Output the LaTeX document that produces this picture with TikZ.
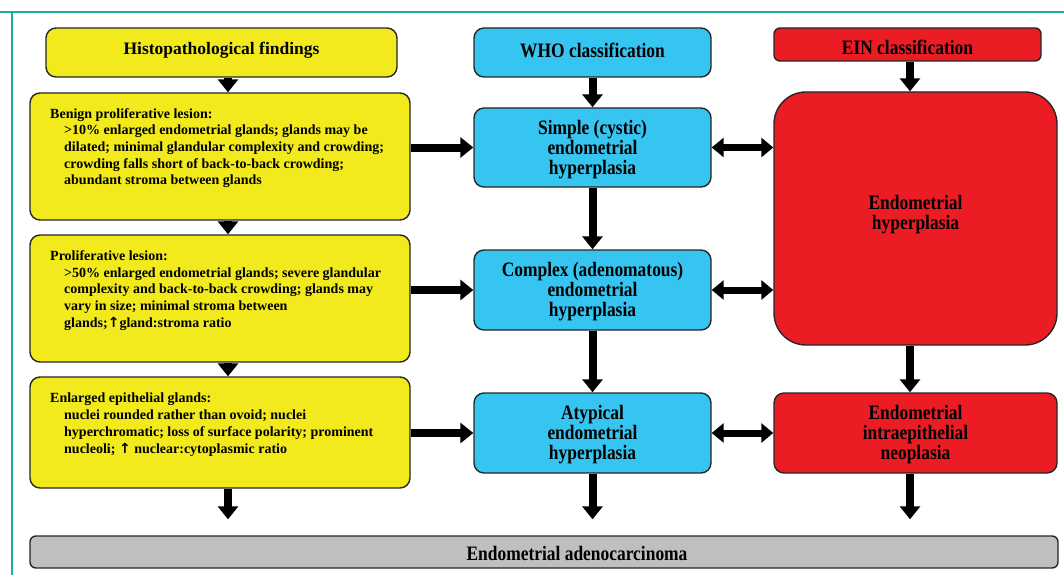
\documentclass[tikz,border=0pt]{standalone}
\usepackage{fontspec}
\setmainfont{Liberation Serif}
\newfontfamily\condfont[FakeStretch=0.85]{Liberation Serif}
\newfontfamily\symfont{DejaVu Sans}
\usetikzlibrary{arrows.meta}
\definecolor{frameteal}{HTML}{1AAE9A}
\definecolor{boxyellow}{HTML}{F2EA1C}
\definecolor{boxblue}{HTML}{36C5F0}
\definecolor{boxred}{HTML}{EC1C24}
\definecolor{boxgray}{HTML}{BFBFBF}
\newcommand\myind{\hspace*{14pt}}
\newcommand\uparr{{\symfont\bfseries ↑}}
\begin{document}
\begin{tikzpicture}[x=1pt,y=-1pt,
  box/.style={draw=black!85, line width=1.4pt, rounded corners=10pt, inner sep=0pt, anchor=center},
  ybox/.style={box, fill=boxyellow},
  bbox/.style={box, fill=boxblue},
  rbox/.style={box, fill=boxred},
  gbox/.style={box, fill=boxgray, rounded corners=6pt},
  ytext/.style={inner sep=0pt, anchor=north west, align=left, font=\bfseries\fontsize{14}{16.7}\selectfont},
  ctext/.style={align=center, font=\condfont\bfseries\fontsize{20.5}{20}\selectfont},
  arr/.style={line width=8pt, -{Triangle[length=13pt,width=20pt]}},
  darr/.style={line width=7pt, {Triangle[length=12pt,width=19pt]}-{Triangle[length=12pt,width=19pt]}},
  frame/.style={draw=frameteal, line width=2pt}
]
\useasboundingbox (0,0) rectangle (1064,575);
\draw[frame] (0,12) -- (1064,12);
\draw[frame] (12,12) -- (12,575);

% column coordinates
\coordinate (ycol) at (228,0);
\coordinate (bcol) at (592.5,0);
\coordinate (rcol) at (910,0);

% yellow column
\node[ybox, minimum width=351pt, minimum height=49pt] (hist) at (221.5,52.5) {};
\node[ctext, font=\bfseries\fontsize{17.5}{20}\selectfont] (histt) at (221.5,50) {Histopathological findings};
\node[ybox, minimum width=380pt, minimum height=127pt] (benign) at (220,156.5) {};
\node[ytext] (benignt) at (50,108) {Benign proliferative lesion:\\
\myind >10\% enlarged endometrial glands; glands may be\\
\myind dilated; minimal glandular complexity and crowding;\\
\myind crowding falls short of back-to-back crowding;\\
\myind abundant stroma between glands};
\node[ybox, minimum width=380pt, minimum height=127pt] (prolif) at (220,298.5) {};
\node[ytext] (prolift) at (50,250.5) {Proliferative lesion:\\
\myind >50\% enlarged endometrial glands; severe glandular\\
\myind complexity and back-to-back crowding; glands may\\
\myind vary in size; minimal stroma between\\
\myind glands;\uparr gland:stroma ratio};
\node[ybox, minimum width=380pt, minimum height=111pt] (enl) at (220,432.5) {};
\node[ytext] (enlt) at (50,393) {Enlarged epithelial glands:\\
\myind nuclei rounded rather than ovoid; nuclei\\
\myind hyperchromatic; loss of surface polarity; prominent\\
\myind nucleoli; \uparr\ nuclear:cytoplasmic ratio};

% blue column
\node[bbox, minimum width=237pt, minimum height=49pt] (who) at (592.5,52.5) {};
\node[ctext] (whot) at (592.5,50) {WHO classification};
\node[bbox, minimum width=237pt, minimum height=79pt] (simple) at (592.5,147.5) {};
\node[ctext] (simplet) at (592.5,150) {Simple (cystic)\\endometrial\\hyperplasia};
\node[bbox, minimum width=237pt, minimum height=80pt] (complex) at (592.5,290) {};
\node[ctext] (complext) at (592.5,292) {Complex (adenomatous)\\endometrial\\hyperplasia};
\node[bbox, minimum width=237pt, minimum height=80pt] (atyp) at (592.5,433) {};
\node[ctext] (atypt) at (592.5,435) {Atypical\\endometrial\\hyperplasia};

% red column
\node[rbox, minimum width=267pt, minimum height=33pt, rounded corners=6pt] (ein) at (907.5,44.5) {};
\node[ctext] (eint) at (907.5,47) {EIN classification};
\node[rbox, minimum width=283pt, minimum height=253pt, rounded corners=32pt] (eh) at (915.5,218.5) {};
\node[ctext] (eht) at (915.5,215) {Endometrial\\hyperplasia};
\node[rbox, minimum width=283pt, minimum height=80pt] (ein2) at (915.5,433) {};
\node[ctext] (ein2t) at (915.5,435) {Endometrial\\intraepithelial\\neoplasia};

% gray bottom
\node[gbox, minimum width=1028pt, minimum height=32pt] (carc) at (544,552) {};
\node[ctext] (carct) at (577,553) {Endometrial adenocarcinoma};

% vertical arrows
\draw[arr] (hist.south -| ycol) -- (benign.north -| ycol);
\draw[arr] (benign.south -| ycol) -- (prolif.north -| ycol);
\draw[arr] (prolif.south -| ycol) -- (enl.north -| ycol);
\draw[arr, shorten >=16pt] (enl.south -| ycol) -- (carc.north -| ycol);
\draw[arr] (who.south) -- (simple.north);
\draw[arr] (simple.south) -- (complex.north);
\draw[arr] (complex.south) -- (atyp.north);
\draw[arr, shorten >=16pt] (atyp.south) -- (carc.north -| atyp.south);
\draw[arr] (ein.south -| rcol) -- (eh.north -| rcol);
\draw[arr] (eh.south -| rcol) -- (ein2.north -| rcol);
\draw[arr, shorten >=16pt] (ein2.south -| rcol) -- (carc.north -| rcol);

% horizontal arrows
\draw[arr] (benign.east |- simple.west) -- (simple.west);
\draw[arr] (prolif.east |- complex.west) -- (complex.west);
\draw[arr] (enl.east |- atyp.west) -- (atyp.west);
\draw[darr] (simple.east) -- (eh.west |- simple.east);
\draw[darr] (complex.east) -- (eh.west |- complex.east);
\draw[darr] (atyp.east) -- (ein2.west);
\end{tikzpicture}
\end{document}
